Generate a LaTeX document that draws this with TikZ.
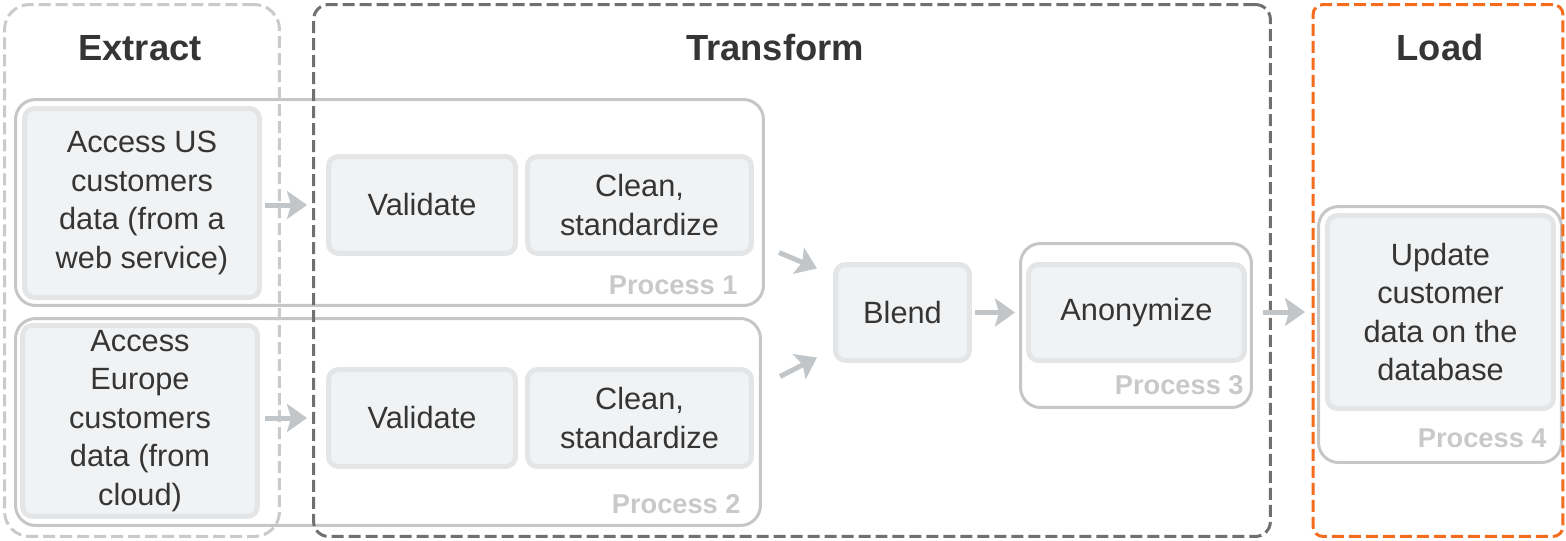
\documentclass[tikz,border=0pt]{standalone}
\usepackage{fontspec}
\setmainfont{Liberation Sans}
\usetikzlibrary{arrows.meta}

\definecolor{ink}{HTML}{353535}
\definecolor{taskfill}{HTML}{F1F2F3}
\definecolor{taskline}{HTML}{E4E5E6}
\definecolor{procline}{HTML}{C6C6C6}
\definecolor{tagtext}{HTML}{C9C9C9}
\definecolor{flowgrey}{HTML}{C3C6C9}
\definecolor{extractgrey}{HTML}{C8CACC}
\definecolor{transformgrey}{HTML}{707070}
\definecolor{loadorange}{HTML}{F46C1E}

\tikzset{
    stage/.style={draw, line width=0.06cm, dash pattern=on 0.24cm off 0.1cm,
        minimum height=10.64cm, inner sep=0},
    proc/.style={draw=procline, line width=0.06cm, rounded corners=0.4cm, inner sep=0},
    task/.style={draw=taskline, fill=taskfill, line width=0.1cm, rounded corners=0.2cm,
        align=center, text=ink, inner sep=0, font=\fontsize{17.5}{21.9}\selectfont},
    title/.style={text=ink, inner sep=0, font=\fontsize{20.7}{24}\selectfont\bfseries},
    tag/.style={text=tagtext, anchor=east, inner sep=0, font=\fontsize{15.5}{18}\selectfont\bfseries},
    flow/.style={draw=flowgrey, line width=0.1cm,
        -{Stealth[length=0.4cm,width=0.56cm,inset=0.08cm]}},
}

\begin{document}
\begin{tikzpicture}[x=0.02cm, y=-0.02cm]
    \useasboundingbox (0,0) rectangle (1566,541);

    % process frames
    \node[proc, minimum width=14.96cm, minimum height=4.12cm] (p1) at (389.5,202.5) {};
    \node[proc, minimum width=14.9cm, minimum height=4.14cm] (p2) at (388,422) {};
    \node[proc, minimum width=4.62cm, minimum height=3.28cm] (p3) at (1136,325.5) {};
    \node[proc, minimum width=4.86cm, minimum height=5.12cm] (p4) at (1440,334.5) {};

    % tasks
    \node[task, minimum width=4.7cm, minimum height=3.78cm] (us) at (142,203)
        {Access US\\customers\\data (from a\\web service)};
    \node[task, minimum width=4.7cm, minimum height=3.82cm] (eu) at (140,421)
        {Access\\Europe\\customers\\data (from\\cloud)};
    \node[task, minimum width=3.74cm, minimum height=1.94cm] (val1) at (422,205) {Validate};
    \node[task, minimum width=4.48cm, minimum height=1.94cm] (cln1) at (639.5,205) {Clean,\\standardize};
    \node[task, minimum width=3.74cm, minimum height=1.94cm] (val2) at (422,418) {Validate};
    \node[task, minimum width=4.48cm, minimum height=1.94cm] (cln2) at (639.5,418) {Clean,\\standardize};
    \node[task, minimum width=2.68cm, minimum height=1.92cm] (blend) at (902.5,312.5) {Blend};
    \node[task, minimum width=4.32cm, minimum height=1.92cm] (anon) at (1136.5,312.5) {Anonymize};
    \node[task, minimum width=4.52cm, minimum height=3.86cm] (upd) at (1440.5,312)
        {Update\\customer\\data on the\\database};

    % ETL stages
    \node[stage, draw=extractgrey, rounded corners=0.5cm, minimum width=5.5cm] (extract) at (142,270.5) {};
    \node[stage, draw=transformgrey, rounded corners=0.3cm, minimum width=19.14cm] (transform) at (792,270.5) {};
    \node[stage, draw=loadorange, rounded corners=0.2cm, minimum width=5cm] (load) at (1438,270.5) {};

    \node[title] (extractlbl) at (140,48) {Extract};
    \node[title] (transformlbl) at (775,48) {Transform};
    \node[title] (loadlbl) at (1440,48) {Load};

    \node[tag] (tag1) at ([shift={(-27,-22)}]p1.south east) {Process 1};
    \node[tag] (tag2) at ([shift={(-21,-23)}]p2.south east) {Process 2};
    \node[tag] (tag3) at ([shift={(-9,-24)}]p3.south east) {Process 3};
    \node[tag] (tag4) at ([shift={(-16,-26)}]p4.south east) {Process 4};

    % flows
    \draw[flow, shorten <=0.06cm, shorten >=0.38cm] (us.east |- val1.west) -- (val1.west);
    \draw[flow, shorten <=0.1cm, shorten >=0.38cm] (eu.east |- val2.west) -- (val2.west);
    \draw[flow] ([shift={(-54,-60)}]blend.west) -- ([shift={(-16,-44)}]blend.west);
    \draw[flow] ([shift={(-53,64)}]blend.west) -- ([shift={(-16,45)}]blend.west);
    \draw[flow, shorten <=0.06cm, shorten >=0.22cm] (blend.east) -- (anon.west);
    \draw[flow, shorten <=0.2cm, shorten >=0.4cm] (p3.east |- upd.west) -- (upd.west);
\end{tikzpicture}
\end{document}
